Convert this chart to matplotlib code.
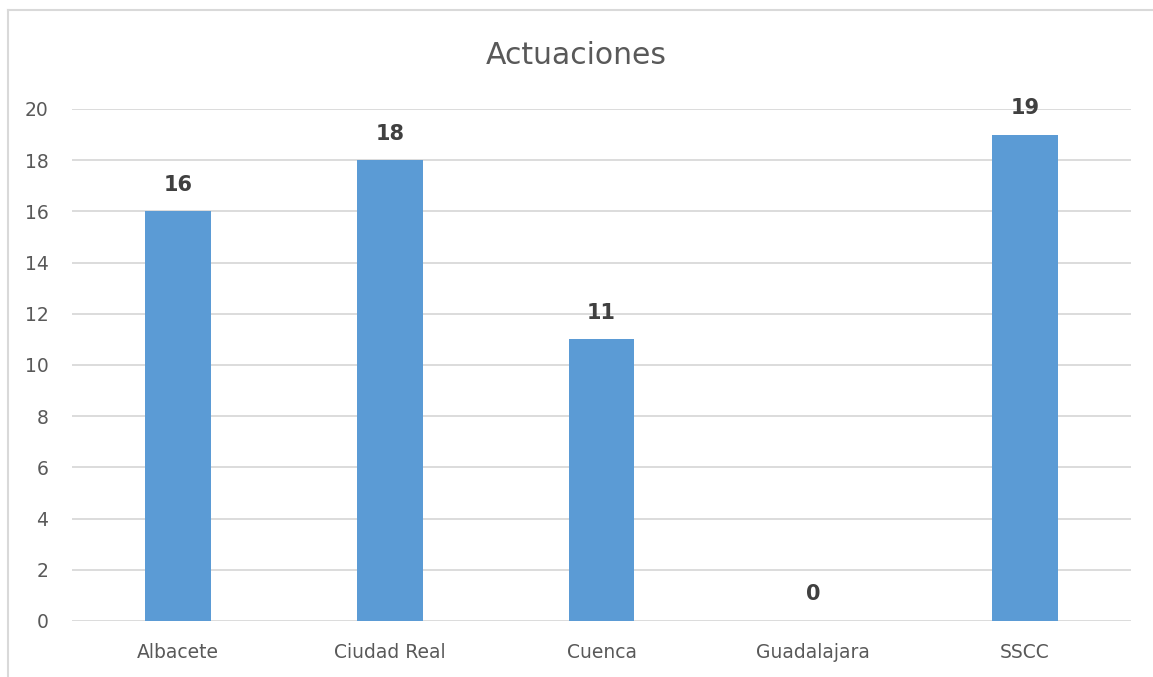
import matplotlib.pyplot as plt
from matplotlib.lines import Line2D

# Datos
categorias = ['Albacete', 'Ciudad Real', 'Cuenca', 'Guadalajara', 'SSCC']
actuaciones = [16, 18, 11, 0, 19]
y_ticks = [0, 2, 4, 6, 8, 10, 12, 14, 16, 18, 20]

W, H = 1153, 677
fig = plt.figure(figsize=(W / 100, H / 100), dpi=100)
fig.patch.set_facecolor('white')

# Área del gráfico (en píxeles: x 72-1131, y 109-621)
ax = fig.add_axes([72 / W, 1 - 621 / H, (1131 - 72) / W, (621 - 109) / H])

texto = '#595959'
bars = ax.bar(range(len(categorias)), actuaciones, width=0.31, color='#5B9BD5', zorder=3)

ax.set_xlim(-0.5, len(categorias) - 0.5)
ax.set_ylim(0, 20)
ax.set_yticks(y_ticks)
ax.set_xticks(range(len(categorias)))
ax.set_xticklabels(categorias)
ax.grid(axis='y', color='#D9D9D9', linewidth=1.3, zorder=0)
for s in ax.spines.values():
    s.set_visible(False)
ax.tick_params(length=0, labelsize=13.5, labelcolor=texto)
ax.tick_params(axis='y', pad=17)
ax.tick_params(axis='x', pad=16)

# Etiquetas de valor
for bar, v in zip(bars, actuaciones):
    ax.text(bar.get_x() + bar.get_width() / 2, v + 0.65, str(v),
            ha='center', va='bottom', fontsize=15, fontweight='bold', color='#404040')

fig.text(0.5, 1 - 55 / H, 'Actuaciones', ha='center', va='center', fontsize=21.5, color=texto)

# Borde del gráfico (solo se ven arriba e izquierda)
fig.add_artist(Line2D([8 / W, 1], [1 - 10 / H, 1 - 10 / H], color='#D9D9D9', linewidth=1.5))
fig.add_artist(Line2D([8 / W, 8 / W], [0, 1 - 10 / H], color='#D9D9D9', linewidth=1.5))

plt.savefig('out.png', dpi=100)
